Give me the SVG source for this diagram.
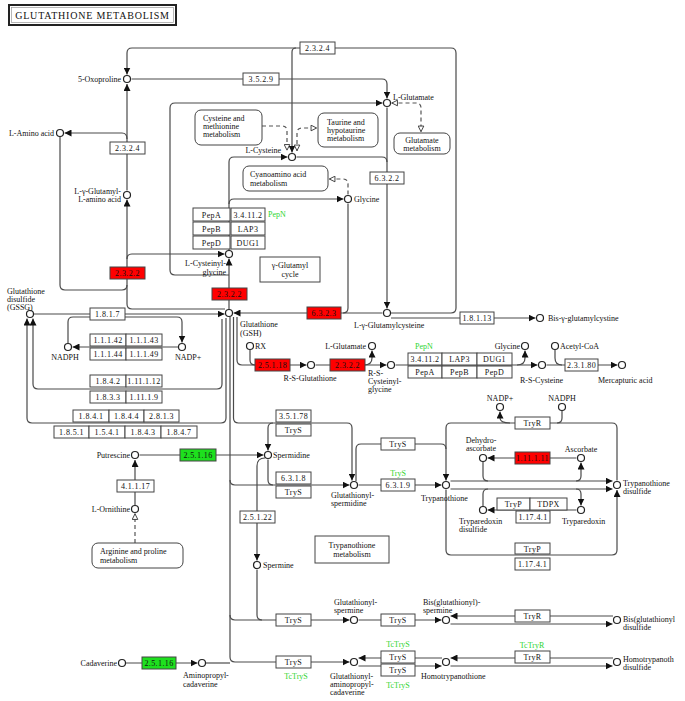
<svg xmlns="http://www.w3.org/2000/svg" width="685" height="701" viewBox="0 0 685 701">
<defs>
<marker id="a" viewBox="0 0 10 10" refX="10" refY="5" markerWidth="7" markerHeight="7" markerUnits="userSpaceOnUse" orient="auto"><path d="M0,0L10,5L0,10z" fill="#111"/></marker>
<marker id="h" viewBox="0 0 10 10" refX="9.5" refY="5" markerWidth="7" markerHeight="7" markerUnits="userSpaceOnUse" orient="auto-start-reverse"><path d="M1,1L9,5L1,9z" fill="#fff" stroke="#333" stroke-width="1.3"/></marker>
</defs>
<style>
.l{fill:none;stroke:#4a4a4a;stroke-width:1.2}
.d{fill:none;stroke:#555;stroke-width:1.2;stroke-dasharray:4 3}
.c{fill:#fff;stroke:#222;stroke-width:1.2}
text{font-family:"Liberation Serif","Times New Roman",serif;font-size:8px;fill:#111}
.te{text-anchor:end}
.tm{text-anchor:middle}
.b rect{fill:#fff;stroke:#444;stroke-width:1}
.b text{text-anchor:middle;letter-spacing:0.4px}
.r rect{fill:#f00}
.g rect{fill:#1ee01e}
.gt{fill:#2fd52f}
.m rect{fill:#fff;stroke:#444;stroke-width:1}
</style>
<rect width="685" height="701" fill="#fff"/>
<g id="title"><rect x="9" y="5" width="167" height="20" fill="#fff" stroke="#222" stroke-width="2"/><rect x="11.5" y="7.5" width="162" height="15" fill="none" stroke="#999" stroke-width="0.7"/><text x="92.5" y="19" class="tm" style="font-size:10px;letter-spacing:0.8px">GLUTATHIONE METABOLISM</text></g>

<g id="edges">
<path class="l" d="M391,313H451Q456,313 456,308V53Q456,48 451,48H132Q127,48 127,53V74.5" marker-end="url(#a)"/>
<path class="l" d="M296,48Q292,48 292,52V152.5" marker-end="url(#a)"/>
<path class="l" d="M131.5,79H382Q387,79 387,84V98.5" marker-end="url(#a)"/>
<path class="l" d="M127,190.5V84" marker-end="url(#a)"/>
<path class="l" d="M127,139Q127,133 122,133H64.5" marker-end="url(#a)"/>
<path class="l" d="M225,309H132Q127,309 127,304V199.5" marker-end="url(#a)"/>
<path class="l" d="M127,259Q127,254 132,254H224.5" marker-end="url(#a)"/>
<path class="l" d="M60,137V285Q60,290 65,290H122Q127,290 127,285"/>
<path class="l" d="M229,275H175Q170,275 170,270V108Q170,103 175,103H382.5" marker-end="url(#a)"/>
<path class="l" d="M229,309V258.5" marker-end="url(#a)"/>
<path class="l" d="M229,250V162Q229,157 234,157H287.5" marker-end="url(#a)"/>
<path class="l" d="M229,204Q229,199 234,199H343.5" marker-end="url(#a)"/>
<path class="l" d="M296.5,157H382Q387,157 387,162"/>
<path class="l" d="M387,107.5V308.5" marker-end="url(#a)"/>
<path class="l" d="M348,203.5V308Q348,313 343,313"/>
<path class="l" d="M382.5,313H233.5" marker-end="url(#a)"/>
<path class="l" d="M391,318H535.5" marker-end="url(#a)"/>
<path class="l" d="M34,314H224.5" marker-end="url(#a)"/>
<path class="l" d="M68,343V322Q68,317 73,317H177Q182,317 182,322V342.5" marker-end="url(#a)"/>
<path class="l" d="M178.5,347H72.5" marker-end="url(#a)"/>
<path class="l" d="M222,319V384Q222,389 217,389H38Q33,389 33,384V318.5" marker-end="url(#a)"/>
<path class="l" d="M226,318V418Q226,423 221,423H32Q27,423 27,418V318.5" marker-end="url(#a)"/>
<path class="l" d="M230,317V657Q230,662 235,662H349.5" marker-end="url(#a)"/>
<path class="l" d="M230,615Q230,620 235,620H349.5" marker-end="url(#a)"/>
<path class="l" d="M230,480Q230,485 235,485H349.5" marker-end="url(#a)"/>
<path class="l" d="M233.5,317V418Q233.5,423 238.5,423H347Q352,423 352,428V480.5" marker-end="url(#a)"/>
<path class="l" d="M273,423Q268,423 268,428V450.5" marker-end="url(#a)"/>
<path class="l" d="M237,317V360Q237,365 242,365H306.5" marker-end="url(#a)"/>
<path class="l" d="M250,350V360Q250,365 255,365"/>
<path class="l" d="M315.5,365H386.5" marker-end="url(#a)"/>
<path class="l" d="M364,365Q372,365 372,358V350.5" marker-end="url(#a)"/>
<path class="l" d="M395.5,365H537.5" marker-end="url(#a)"/>
<path class="l" d="M517,365Q525,365 525,358V350.5" marker-end="url(#a)"/>
<path class="l" d="M546.5,365H617.5" marker-end="url(#a)"/>
<path class="l" d="M555,350V358Q555,365 562,365"/>
<path class="l" d="M139.5,455H263.5" marker-end="url(#a)"/>
<path class="l" d="M135,505.5V460" marker-end="url(#a)"/>
<path class="l" d="M265,458Q257,458 257,466V560.5" marker-end="url(#a)"/>
<path class="l" d="M268,459.5V480Q268,485 273,485"/>
<path class="l" d="M257,569.5V615Q257,620 262,620"/>
<path class="l" d="M356,481V449Q356,444 361,444H441Q446,444 446,449V480.5" marker-end="url(#a)"/>
<path class="l" d="M358.5,485H441.5" marker-end="url(#a)"/>
<path class="l" d="M617,480.5V428Q617,423 612,423H451Q446,423 446,428V449"/>
<path class="l" d="M446,489.5V550Q446,555 451,555H612Q617,555 617,550V490" marker-end="url(#a)"/>
<path class="l" d="M450.5,481H612.5" marker-end="url(#a)"/>
<path class="l" d="M450.5,489H612.5" marker-end="url(#a)"/>
<path class="l" d="M562,411V418Q562,423 557,423"/>
<path class="l" d="M510,423Q500,423 500,418V411.5" marker-end="url(#a)"/>
<path class="l" d="M483,462V476Q483,481 488,481"/>
<path class="l" d="M576,481Q581,481 581,476V462.5" marker-end="url(#a)"/>
<path class="l" d="M576.5,458H487.5" marker-end="url(#a)"/>
<path class="l" d="M488,489Q483,489 483,494V506.5"/>
<path class="l" d="M576,489Q581,489 581,494V505.5" marker-end="url(#a)"/>
<path class="l" d="M576.5,510H487.5" marker-end="url(#a)"/>
<path class="l" d="M358.5,620H441.5" marker-end="url(#a)"/>
<path class="l" d="M613,616H450.5" marker-end="url(#a)"/>
<path class="l" d="M450.5,624H612.5" marker-end="url(#a)"/>
<path class="l" d="M442,658H358.5" marker-end="url(#a)"/>
<path class="l" d="M358.5,666H441.5" marker-end="url(#a)"/>
<path class="l" d="M613,658H450.5" marker-end="url(#a)"/>
<path class="l" d="M450.5,666H612.5" marker-end="url(#a)"/>
<path class="l" d="M126,663H197.5" marker-end="url(#a)"/>
<path class="l" d="M206,663H230"/>
<path class="d" d="M262,126H282Q287,126 287,131V150.5" marker-end="url(#h)"/>
<path class="d" d="M297,151V133Q297,128 302,128H317" marker-start="url(#h)" marker-end="url(#h)"/>
<path class="d" d="M391.5,103H416Q421,103 421,108V132" marker-start="url(#h)" marker-end="url(#h)"/>
<path class="d" d="M348,194.5V184Q348,179 343,179H329" marker-end="url(#h)"/>
<path class="d" d="M135,543V513.5" marker-end="url(#h)"/>
</g>

<g id="maps">
<g id="m-cysmet" class="m"><rect x="195" y="110" width="67" height="35" rx="6"/><text x="203" y="121">Cysteine and</text><text x="203" y="129">methionine</text><text x="203" y="137">metabolism</text></g>
<g id="m-taurine" class="m"><rect x="318" y="113" width="60" height="34" rx="6"/><text x="327" y="125">Taurine and</text><text x="327" y="133">hypotaurine</text><text x="327" y="141">metabolism</text></g>
<g id="m-glutamate" class="m"><rect x="394" y="133" width="56" height="21" rx="6"/><text x="422" y="143" class="tm">Glutamate</text><text x="422" y="151" class="tm">metabolism</text></g>
<g id="m-cyano" class="m"><rect x="243" y="166" width="85" height="25" rx="6"/><text x="250" y="177">Cyanoamino acid</text><text x="250" y="186">metabolism</text></g>
<g id="m-glucycle" class="m"><rect x="260" y="257" width="60" height="25"/><text x="290" y="268" class="tm">γ-Glutamyl</text><text x="290" y="277" class="tm">cycle</text></g>
<g id="m-tryp" class="m"><rect x="315" y="536" width="74" height="27"/><text x="352" y="548" class="tm">Trypanothione</text><text x="352" y="557" class="tm">metabolism</text></g>
<g id="m-arg" class="m"><rect x="92" y="543" width="91" height="25" rx="6"/><text x="100" y="554">Arginine and proline</text><text x="100" y="563">metabolism</text></g>
</g>

<g id="enzymes">
<g id="e1" class="b"><rect x="300" y="42" width="35" height="12"/><text x="317.5" y="51">2.3.2.4</text></g>
<g id="e2" class="b"><rect x="243" y="73" width="36" height="12"/><text x="261" y="82">3.5.2.9</text></g>
<g id="e3" class="b"><rect x="110" y="142" width="35" height="12"/><text x="127.5" y="151">2.3.2.4</text></g>
<g id="e4" class="b"><rect x="370" y="172" width="34" height="12"/><text x="387" y="181">6.3.2.2</text></g>
<g id="e5" class="b"><rect x="193" y="208" width="37" height="13"/><text x="211.5" y="217.5">PepA</text><rect x="193" y="222" width="37" height="13"/><text x="211.5" y="231.5">PepB</text><rect x="193" y="236" width="37" height="13"/><text x="211.5" y="245.5">PepD</text><rect x="231" y="208" width="34" height="13"/><text x="248" y="217.5">3.4.11.2</text><rect x="231" y="222" width="34" height="13"/><text x="248" y="231.5">LAP3</text><rect x="231" y="236" width="34" height="13"/><text x="248" y="245.5">DUG1</text><text x="268" y="217" class="gt" style="text-anchor:start;letter-spacing:0">PepN</text></g>
<g id="e6" class="b r"><rect x="110" y="267" width="35" height="12"/><text x="127.5" y="276">2.3.2.2</text></g>
<g id="e7" class="b r"><rect x="212" y="288" width="35" height="12"/><text x="229.5" y="297">2.3.2.2</text></g>
<g id="e8" class="b r"><rect x="307" y="307" width="34" height="12"/><text x="324" y="316">6.3.2.3</text></g>
<g id="e9" class="b"><rect x="90" y="308" width="35" height="12"/><text x="107.5" y="317">1.8.1.7</text></g>
<g id="e10" class="b"><rect x="460" y="312" width="34" height="12"/><text x="477" y="321">1.8.1.13</text></g>
<g id="e11" class="b"><rect x="90" y="334" width="36" height="12"/><text x="108" y="343">1.1.1.42</text><rect x="126" y="334" width="36" height="12"/><text x="144" y="343">1.1.1.43</text><rect x="90" y="348" width="36" height="12"/><text x="108" y="357">1.1.1.44</text><rect x="126" y="348" width="36" height="12"/><text x="144" y="357">1.1.1.49</text></g>
<g id="e12" class="b"><rect x="90" y="375" width="36" height="12"/><text x="108" y="384">1.8.4.2</text><rect x="126" y="375" width="36" height="12"/><text x="144" y="384">1.11.1.12</text><rect x="90" y="391" width="36" height="12"/><text x="108" y="400">1.8.3.3</text><rect x="126" y="391" width="36" height="12"/><text x="144" y="400">1.11.1.9</text></g>
<g id="e13" class="b"><rect x="73" y="410" width="36" height="12"/><text x="91" y="419">1.8.4.1</text><rect x="109" y="410" width="35" height="12"/><text x="126.5" y="419">1.8.4.4</text><rect x="144" y="410" width="35" height="12"/><text x="161.5" y="419">2.8.1.3</text></g>
<g id="e14" class="b"><rect x="54" y="426" width="35" height="12"/><text x="71.5" y="435">1.8.5.1</text><rect x="89" y="426" width="36" height="12"/><text x="107" y="435">1.5.4.1</text><rect x="125" y="426" width="36" height="12"/><text x="143" y="435">1.8.4.3</text><rect x="161" y="426" width="36" height="12"/><text x="179" y="435">1.8.4.7</text></g>
<g id="e15" class="b r"><rect x="255" y="359" width="35" height="12"/><text x="272.5" y="368">2.5.1.18</text></g>
<g id="e16" class="b r"><rect x="330" y="359" width="35" height="12"/><text x="347.5" y="368">2.3.2.2</text></g>
<g id="e17" class="b"><rect x="408" y="353" width="34" height="12"/><text x="425" y="362">3.4.11.2</text><rect x="442" y="353" width="35" height="12"/><text x="459.5" y="362">LAP3</text><rect x="477" y="353" width="35" height="12"/><text x="494.5" y="362">DUG1</text><rect x="408" y="366" width="34" height="12"/><text x="425" y="375">PepA</text><rect x="442" y="366" width="35" height="12"/><text x="459.5" y="375">PepB</text><rect x="477" y="366" width="35" height="12"/><text x="494.5" y="375">PepD</text><text x="415" y="349" class="gt" style="text-anchor:start;letter-spacing:0">PepN</text></g>
<g id="e18" class="b"><rect x="565" y="359" width="33" height="12"/><text x="581.5" y="368">2.3.1.80</text></g>
<g id="e19" class="b g"><rect x="180" y="449" width="36" height="12"/><text x="198" y="458">2.5.1.16</text></g>
<g id="e20" class="b"><rect x="117" y="480" width="37" height="12"/><text x="135.5" y="489">4.1.1.17</text></g>
<g id="e21" class="b"><rect x="276" y="410" width="35" height="12"/><text x="293.5" y="419">3.5.1.78</text><rect x="276" y="424" width="35" height="12"/><text x="293.5" y="433">TryS</text></g>
<g id="e22" class="b"><rect x="381" y="438" width="34" height="12"/><text x="398" y="447">TryS</text></g>
<g id="e23" class="b"><rect x="381" y="479" width="34" height="12"/><text x="398" y="488">6.3.1.9</text><text x="398" y="476" class="gt" style="letter-spacing:0">TryS</text></g>
<g id="e24" class="b"><rect x="276" y="472" width="35" height="12"/><text x="293.5" y="481">6.3.1.8</text><rect x="276" y="486" width="35" height="12"/><text x="293.5" y="495">TryS</text></g>
<g id="e25" class="b"><rect x="240" y="511" width="35" height="12"/><text x="257.5" y="520">2.5.1.22</text></g>
<g id="e26" class="b"><rect x="515" y="417" width="35" height="12"/><text x="532.5" y="426">TryR</text></g>
<g id="e27" class="b r"><rect x="515" y="452" width="35" height="12"/><text x="532.5" y="461">1.11.1.11</text></g>
<g id="e28" class="b"><rect x="497" y="498" width="33" height="12"/><text x="513.5" y="507">TryP</text><rect x="530" y="498" width="37" height="12"/><text x="548.5" y="507">TDPX</text><rect x="516" y="511" width="34" height="12"/><text x="533" y="520">1.17.4.1</text></g>
<g id="e29" class="b"><rect x="515" y="543" width="35" height="11"/><text x="532.5" y="551.5">TryP</text><rect x="515" y="558" width="35" height="12"/><text x="532.5" y="567">1.17.4.1</text></g>
<g id="e30" class="b"><rect x="276" y="614" width="35" height="12"/><text x="293.5" y="623">TryS</text></g>
<g id="e31" class="b"><rect x="381" y="614" width="34" height="12"/><text x="398" y="623">TryS</text></g>
<g id="e32" class="b"><rect x="515" y="610" width="35" height="12"/><text x="532.5" y="619">TryR</text></g>
<g id="e33" class="b g"><rect x="142" y="657" width="34" height="12"/><text x="159" y="666">2.5.1.16</text></g>
<g id="e34" class="b"><rect x="276" y="656" width="35" height="12"/><text x="293.5" y="665">TryS</text><text x="296" y="679" class="gt" style="letter-spacing:0">TcTryS</text></g>
<g id="e35" class="b"><rect x="381" y="651" width="34" height="12"/><text x="398" y="660">TryS</text><rect x="381" y="664" width="34" height="12"/><text x="398" y="673">TryS</text><text x="398" y="647" class="gt" style="letter-spacing:0">TcTryS</text><text x="398" y="688" class="gt" style="letter-spacing:0">TcTryS</text></g>
<g id="e36" class="b"><rect x="515" y="651" width="35" height="12"/><text x="532.5" y="660">TryR</text><text x="532" y="648" class="gt" style="letter-spacing:0">TcTryR</text></g>
</g>

<g id="compounds">
<g id="n1"><circle class="c" cx="127" cy="79" r="3.5"/><text x="121" y="82" class="te">5-Oxoproline</text></g>
<g id="n2"><circle class="c" cx="60" cy="133" r="3.5"/><text x="54" y="136" class="te">L-Amino acid</text></g>
<g id="n3"><circle class="c" cx="127" cy="195" r="3.5"/><text x="121" y="194" class="te">L-γ-Glutamyl-</text><text x="121" y="202" class="te">L-amino acid</text></g>
<g id="n4"><circle class="c" cx="387" cy="103" r="3.5"/><text x="393" y="100">L-Glutamate</text></g>
<g id="n5"><circle class="c" cx="292" cy="157" r="3.5"/><text x="281" y="153" class="te">L-Cysteine</text></g>
<g id="n6"><circle class="c" cx="348" cy="199" r="3.5"/><text x="354" y="202">Glycine</text></g>
<g id="n7"><circle class="c" cx="229" cy="254" r="3.5"/><text x="226" y="266" class="te">L-Cysteinyl-</text><text x="226" y="275" class="te">glycine</text></g>
<g id="n8"><circle class="c" cx="229" cy="313" r="3.5"/><text x="240" y="327">Glutathione</text><text x="240" y="336">(GSH)</text></g>
<g id="n9"><circle class="c" cx="387" cy="313" r="3.5"/><text x="354" y="328">L-γ-Glutamylcysteine</text></g>
<g id="n10"><circle class="c" cx="30" cy="314" r="3.5"/><text x="7" y="294">Glutathione</text><text x="7" y="302">disulfide</text><text x="7" y="310">(GSSG)</text></g>
<g id="n11"><circle class="c" cx="540" cy="318" r="3.5"/><text x="548" y="321">Bis-γ-glutamylcystine</text></g>
<g id="n12"><circle class="c" cx="68" cy="347" r="3.5"/><text x="65" y="360" class="tm">NADPH</text></g>
<g id="n13"><circle class="c" cx="182" cy="347" r="3.5"/><text x="175" y="360">NADP+</text></g>
<g id="n14"><circle class="c" cx="250" cy="346" r="3.5"/><text x="255" y="349">RX</text></g>
<g id="n15"><circle class="c" cx="372" cy="346" r="3.5"/><text x="366" y="349" class="te">L-Glutamate</text></g>
<g id="n16"><circle class="c" cx="311" cy="365" r="3.5"/><text x="310" y="381" class="tm">R-S-Glutathione</text></g>
<g id="n17"><circle class="c" cx="391" cy="365" r="3.5"/><text x="368" y="376">R-S-</text><text x="368" y="384">Cysteinyl-</text><text x="368" y="392">glycine</text></g>
<g id="n18"><circle class="c" cx="525" cy="346" r="3.5"/><text x="520" y="349" class="te">Glycine</text></g>
<g id="n19"><circle class="c" cx="555" cy="346" r="3.5"/><text x="560" y="349">Acetyl-CoA</text></g>
<g id="n20"><circle class="c" cx="542" cy="365" r="3.5"/><text x="520" y="383">R-S-Cysteine</text></g>
<g id="n21"><circle class="c" cx="622" cy="365" r="3.5"/><text x="598" y="383">Mercapturic acid</text></g>
<g id="n22"><circle class="c" cx="500" cy="407" r="3.5"/><text x="500" y="401" class="tm">NADP+</text></g>
<g id="n23"><circle class="c" cx="562" cy="407" r="3.5"/><text x="562" y="401" class="tm">NADPH</text></g>
<g id="n24"><circle class="c" cx="483" cy="458" r="3.5"/><text x="481" y="443" class="tm">Dehydro-</text><text x="481" y="451" class="tm">ascorbate</text></g>
<g id="n25"><circle class="c" cx="581" cy="458" r="3.5"/><text x="581" y="452" class="tm">Ascorbate</text></g>
<g id="n26"><circle class="c" cx="135" cy="455" r="3.5"/><text x="130" y="458" class="te">Putrescine</text></g>
<g id="n27"><circle class="c" cx="268" cy="455" r="3.5"/><text x="273" y="458">Spermidine</text></g>
<g id="n28"><circle class="c" cx="354" cy="485" r="3.5"/><text x="331" y="498">Glutathionyl-</text><text x="331" y="506">spermidine</text></g>
<g id="n29"><circle class="c" cx="446" cy="485" r="3.5"/><text x="421" y="501">Trypanothione</text></g>
<g id="n30"><circle class="c" cx="617" cy="485" r="3.5"/><text x="623" y="486">Trypanothione</text><text x="623" y="494">disulfide</text></g>
<g id="n31"><circle class="c" cx="483" cy="510" r="3.5"/><text x="459" y="524">Tryparedoxin</text><text x="459" y="532">disulfide</text></g>
<g id="n32"><circle class="c" cx="581" cy="510" r="3.5"/><text x="562" y="524">Tryparedoxin</text></g>
<g id="n33"><circle class="c" cx="135" cy="509" r="3.5"/><text x="130" y="512" class="te">L-Ornithine</text></g>
<g id="n34"><circle class="c" cx="257" cy="565" r="3.5"/><text x="263" y="568">Spermine</text></g>
<g id="n35"><circle class="c" cx="354" cy="620" r="3.5"/><text x="334" y="605">Glutathionyl-</text><text x="334" y="613">spermine</text></g>
<g id="n36"><circle class="c" cx="446" cy="620" r="3.5"/><text x="423" y="605">Bis(glutathionyl)-</text><text x="423" y="613">spermine</text></g>
<g id="n37"><circle class="c" cx="617" cy="620" r="3.5"/><text x="623" y="622">Bis(glutathionyl</text><text x="623" y="630">disulfide</text></g>
<g id="n38"><circle class="c" cx="122" cy="663" r="3.5"/><text x="117" y="666" class="te">Cadaverine</text></g>
<g id="n39"><circle class="c" cx="202" cy="663" r="3.5"/><text x="183" y="678">Aminopropyl-</text><text x="183" y="687">cadaverine</text></g>
<g id="n40"><circle class="c" cx="354" cy="662" r="3.5"/><text x="330" y="679">Glutathionyl-</text><text x="330" y="687">aminopropyl-</text><text x="330" y="695">cadaverine</text></g>
<g id="n41"><circle class="c" cx="446" cy="662" r="3.5"/><text x="421" y="679">Homotrypanothione</text></g>
<g id="n42"><circle class="c" cx="617" cy="662" r="3.5"/><text x="623" y="662">Homotrypanoth</text><text x="623" y="670">disulfide</text></g>
</g>
</svg>
